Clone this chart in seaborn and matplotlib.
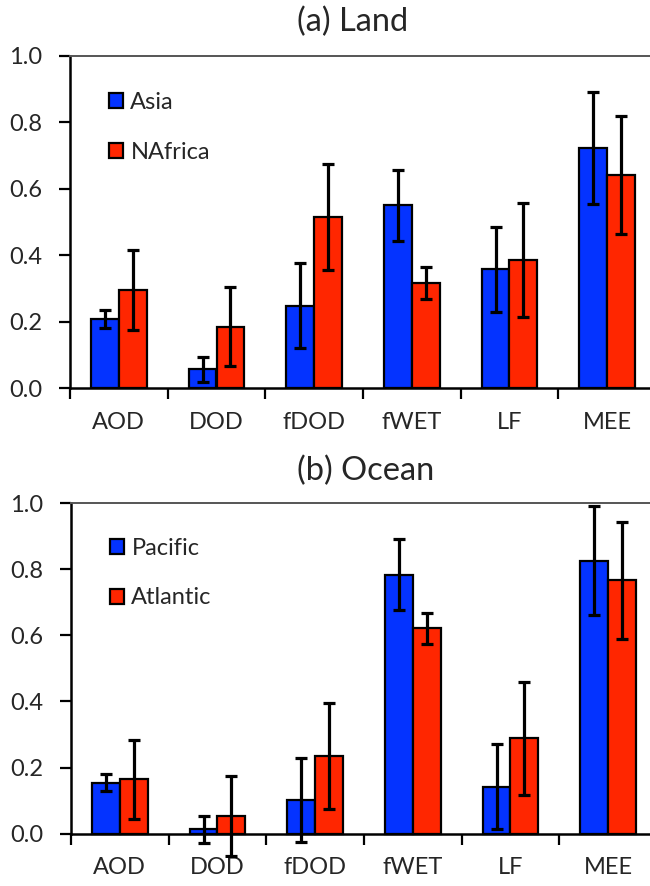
import numpy as np
import pandas as pd
import matplotlib
matplotlib.use("Agg")
import matplotlib.pyplot as plt
import seaborn as sns

# Variables shown on the x axis
variables = ["AOD", "DOD", "fDOD", "fWET", "LF", "MEE"]

# (a) Land: correlation values and error half-widths
land_regions = ["Asia", "NAfrica"]
asia_vals = [0.207, 0.056, 0.248, 0.550, 0.357, 0.723]
asia_err = [0.027, 0.037, 0.128, 0.108, 0.127, 0.168]
nafrica_vals = [0.295, 0.185, 0.514, 0.316, 0.386, 0.642]
nafrica_err = [0.121, 0.120, 0.160, 0.048, 0.171, 0.177]

# (b) Ocean
ocean_regions = ["Pacific", "Atlantic"]
pacific_vals = [0.154, 0.014, 0.102, 0.783, 0.142, 0.826]
pacific_err = [0.026, 0.041, 0.128, 0.108, 0.128, 0.166]
atlantic_vals = [0.165, 0.054, 0.235, 0.621, 0.288, 0.767]
atlantic_err = [0.119, 0.122, 0.160, 0.046, 0.172, 0.177]

yticks = [0.0, 0.2, 0.4, 0.6, 0.8, 1.0]
colors = ["#0433FF", "#FF2600"]

sns.set_style("white")
plt.rcParams["font.family"] = ["Lato", "DejaVu Sans"]

FS = 17
W, H = 650, 886
fig = plt.figure(figsize=(W / 100, H / 100), dpi=100)


def px_axes(left, top, right, bottom):
    return fig.add_axes([left / W, (H - bottom) / H, (right - left) / W, (bottom - top) / H])


def panel(ax, regions, vals, errs, ylim, legend_y):
    df = pd.DataFrame({
        "variable": variables * 2,
        "region": [regions[0]] * len(variables) + [regions[1]] * len(variables),
        "value": list(vals[0]) + list(vals[1]),
    })
    sns.barplot(data=df, x="variable", y="value", hue="region", order=variables,
                hue_order=regions, palette=colors, width=0.57, edgecolor="black",
                linewidth=1.6, errorbar=None, saturation=1, ax=ax, zorder=2)
    # error bars centred on each bar
    for cont, v, e in zip(ax.containers, vals, errs):
        xs = [p.get_x() + p.get_width() / 2 for p in cont.patches]
        ax.errorbar(xs, v, yerr=e, fmt="none", ecolor="black", elinewidth=2.3,
                    capsize=4.6, capthick=2.3, zorder=3)

    ax.set_xlim(-0.5, len(variables) - 0.5)
    ax.set_ylim(*ylim)
    ax.set_yticks(yticks)
    ax.yaxis.set_major_formatter("{x:.1f}")
    ax.set_xlabel("")
    ax.set_ylabel("")

    ax.spines["bottom"].set_position(("data", 0))
    ax.spines["left"].set_bounds(0, 1)
    for s in ("left", "bottom"):
        ax.spines[s].set_color("black")
        ax.spines[s].set_linewidth(1.8)
    ax.spines["top"].set_color("#555555")
    ax.spines["top"].set_linewidth(1.4)
    ax.spines["right"].set_visible(False)

    ax.set_xticks(np.arange(-0.5, len(variables), 1), minor=True)
    ax.tick_params(axis="x", which="major", length=0, pad=17, labelsize=FS)
    ax.tick_params(axis="x", which="minor", bottom=True, length=8, width=1.6,
                   direction="out", color="black")
    ax.tick_params(axis="y", left=True, length=8, width=1.6, direction="out",
                   color="black", pad=12, labelsize=FS)

    handles, labels = ax.get_legend_handles_labels()
    ax.legend(handles, labels, loc="upper left", bbox_to_anchor=(0.066, legend_y),
              frameon=False, fontsize=FS, handlelength=0.62, handleheight=0.62,
              handletextpad=0.3, labelspacing=1.22, borderpad=0, borderaxespad=0)


ax1 = px_axes(70, 56, 656, 388)
panel(ax1, land_regions, [asia_vals, nafrica_vals], [asia_err, nafrica_err],
      (0, 1.0), 0.892)

ax2 = px_axes(71, 503, 657, 856.9)
panel(ax2, ocean_regions, [pacific_vals, atlantic_vals], [pacific_err, atlantic_err],
      (-0.07, 1.0), 0.902)

fig.text(297 / W, 1 - 31.5 / H, "(a) Land", fontsize=23.5, ha="left", va="baseline")
fig.text(297 / W, 1 - 480 / H, "(b) Ocean", fontsize=23.5, ha="left", va="baseline")

fig.savefig("out.png", dpi=100)
